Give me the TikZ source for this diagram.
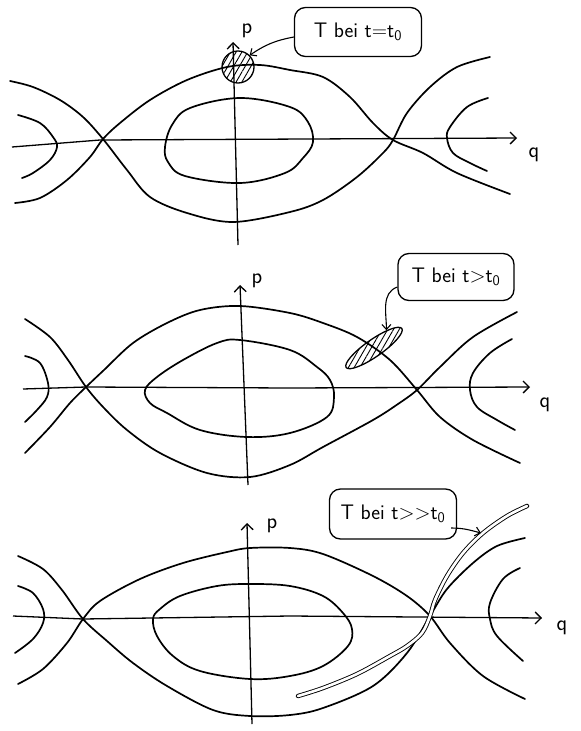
\documentclass[tikz,border=0pt]{standalone}
\usepackage{tikz}
\usetikzlibrary{arrows.meta, positioning, shapes.geometric, patterns.meta}

\begin{document}
\begin{tikzpicture}[x=1pt, y=-1pt,
  curve/.style={line width=1.7pt, line join=round, line cap=round},
  axis/.style={line width=1.3pt, -{Straight Barb[length=6pt, width=12pt, line width=1.3pt]}},
  axlabel/.style={font=\fontsize{22}{24}\selectfont\sffamily, inner sep=0pt},
  callout/.style={draw, line width=1.3pt, rounded corners=11pt, inner sep=0pt, font=\fontsize{21}{24}\selectfont\sffamily},
  pointer/.style={line width=1.1pt, -{Straight Barb[length=5pt, width=9pt, line width=1.1pt]}},
  hatch/.style={draw, line width=1.3pt, inner sep=0pt, pattern={Lines[angle=60, distance=5pt, line width=0.9pt]}},
  filament/.style={line width=0.9pt, double=white, double distance=2.6pt, line cap=round}
]
\useasboundingbox (0,0) rectangle (581,731);

% t = t0
\draw[axis] (12,147) -- (100,140) -- (517,138);
\node[axlabel] (q1) at (534,155) {q};
\draw[axis] (238,245) -- (233,42);
\node[axlabel] (p1) at (247,31) {p};
\draw[curve] plot[smooth, tension=0.55] coordinates {(15,203) (40,198) (67,180) (90,157) (103,139) (120,123) (150,100) (187,80) (227,67) (260,65) (290,70) (323,77) (350,97) (373,123) (393,140) (423,153) (457,173) (510,194)};
\draw[curve] plot[smooth, tension=0.55] coordinates {(10,81) (33,87) (60,100) (83,117) (103,139) (127,170) (150,197) (187,213) (233,222) (290,212) (323,200) (357,177) (383,153) (393,140) (407,113) (430,87) (457,67) (490,57)};
\draw[curve] plot[smooth cycle, tension=0.6] coordinates {(165,147) (172,125) (190,108) (240,98) (290,107) (308,122) (313,142) (303,158) (285,173) (240,183) (185,176) (168,162)};
\draw[curve] plot[smooth, tension=0.6] coordinates {(18,115) (40,123) (53,137) (57,147) (50,160) (33,173) (22,178)};
\draw[curve] plot[smooth, tension=0.6] coordinates {(488,98) (467,107) (450,127) (447,138) (453,153) (470,163) (487,171)};
\node[circle, hatch, minimum size=32pt] (blob1) at (238,67) {};
\node[callout, minimum width=127pt, minimum height=49pt] (tag1) at (358,32) {T bei t=t\textsubscript{0}};
\draw[pointer] ([yshift=-5pt]tag1.west) to[bend right=12] (blob1.north east);

% t > t0
\draw[axis] (23,389) -- (86,387) -- (290,388) -- (530,387);
\node[axlabel] (q2) at (545,405) {q};
\draw[axis] (248,485) -- (240,285);
\node[axlabel] (p2) at (257,281) {p};
\draw[curve] plot[smooth, tension=0.55] coordinates {(25,453) (50,427) (70,403) (86,387) (104,370) (133,343) (167,323) (200,310) (240,306) (290,313) (323,323) (357,337) (390,360) (417,390) (440,417) (473,440) (520,463)};
\draw[curve] plot[smooth, tension=0.55] coordinates {(25,319) (50,337) (68,360) (86,387) (104,408) (127,430) (160,453) (207,473) (250,477) (290,465) (323,447) (373,420) (398,404) (417,390) (440,367) (473,337) (517,312)};
\draw[curve] plot[smooth cycle, tension=0.6] coordinates {(145,390) (157,377) (183,360) (217,343) (240,340) (290,350) (317,367) (330,380) (334,397) (327,417) (290,433) (247,437) (200,430) (167,413) (150,403)};
\draw[curve] plot[smooth, tension=0.6] coordinates {(25,356) (40,363) (48,383) (47,397) (37,410) (25,422)};
\draw[curve] plot[smooth, tension=0.6] coordinates {(512,339) (490,353) (473,373) (470,390) (477,407) (497,420) (515,430)};
\node[ellipse, hatch, minimum width=68pt, minimum height=17pt, rotate=35] (blob2) at (374,348) {};
\node[callout, minimum width=116pt, minimum height=47pt] (tag2) at (456,277) {T bei t>t\textsubscript{0}};
\draw[pointer] ([yshift=-10pt]tag2.west) to[out=200, in=90] (blob2.20);

% t >> t0
\draw[axis] (13,616) -- (83,619) -- (290,616) -- (542,618);
\node[axlabel] (q3) at (562,628) {q};
\draw[axis] (252,724) -- (247,523);
\node[axlabel] (p3) at (272,526) {p};
\draw[curve] plot[smooth, tension=0.55] coordinates {(18,684) (43,669) (67,643) (83,619) (100,601) (140,579) (183,563) (227,552) (250,548) (290,548) (323,554) (373,576) (407,596) (430,616) (450,643) (483,676) (525,699)};
\draw[curve] plot[smooth, tension=0.55] coordinates {(18,556) (43,569) (62,590) (83,619) (107,641) (133,663) (167,686) (213,710) (250,716) (290,715) (323,708) (373,686) (407,653) (430,616) (447,589) (473,563) (497,546) (525,538)};
\draw[curve] plot[smooth cycle, tension=0.6] coordinates {(153,619) (160,609) (180,596) (217,586) (250,584) (290,586) (323,596) (343,613) (352,629) (348,646) (323,666) (290,676) (250,679) (200,671) (173,656) (157,636)};
\draw[curve] plot[smooth, tension=0.6] coordinates {(18,586) (33,593) (43,609) (43,623) (33,639) (15,653)};
\draw[curve] plot[smooth, tension=0.6] coordinates {(520,568) (503,579) (490,603) (490,619) (497,636) (523,661)};
\draw[filament] plot[smooth, tension=0.55] coordinates {(527,506) (507,516) (483,533) (463,553) (447,576) (435,600) (430,616) (422,633) (407,646) (390,656) (357,674) (323,688) (298,696)};
\coordinate (fil3) at (481,533);
\node[callout, minimum width=127pt, minimum height=50pt] (tag3) at (393,514) {T bei t{>}{>}t\textsubscript{0}};
\draw[pointer] ([xshift=-6pt, yshift=-14pt]tag3.east) to[out=0, in=165] (fil3);
\end{tikzpicture}
\end{document}
